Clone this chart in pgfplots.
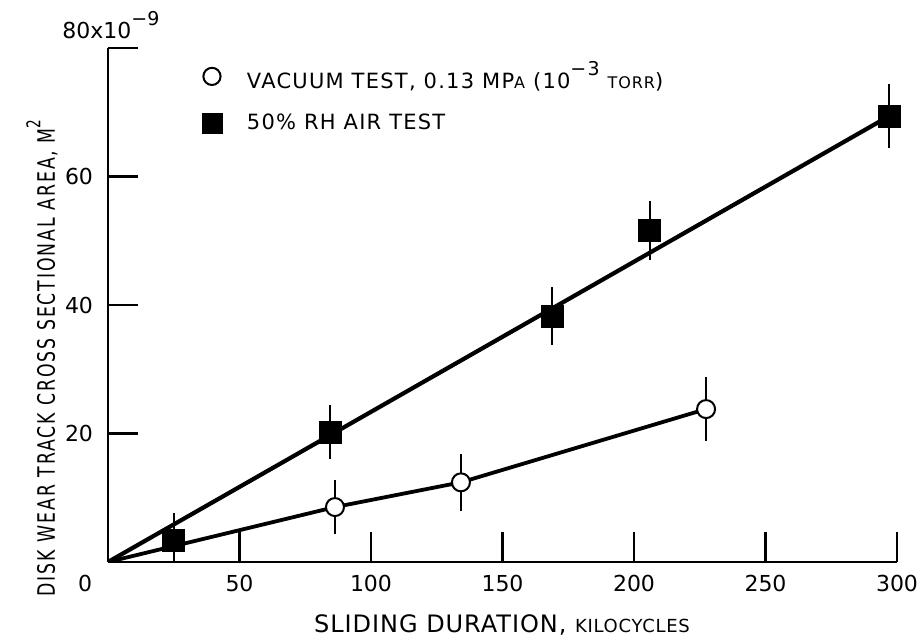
\documentclass[border=0pt]{standalone}
\usepackage{fontspec}
\setmainfont{DejaVu Sans}
\newfontfamily\ylfont{DejaVu Sans}[FakeStretch=0.72,LetterSpace=8]
\newfontfamily\xlfont{DejaVu Sans}[LetterSpace=4]
\newfontfamily\lgfont{DejaVu Sans}[LetterSpace=6]
\usepackage{pgfplots}
\pgfplotsset{compat=1.18}
\usepackage{pgfplotstable}

\pgfplotstableread{
x y e
25 3.4 4.2
84.4 20.2 4.2
168.8 38.3 4.5
206 51.6 4.6
297 69.4 5
}\air
\pgfplotstableread{
x y e
86.3 8.55 4.2
134.2 12.4 4.4
227.4 23.8 5
}\vac

\newcommand{\supr}[1]{\raisebox{0.6em}{\fontsize{9.5}{10}\selectfont #1}}

\begin{document}
\begin{tikzpicture}
\useasboundingbox (-54pt,-39.5pt) rectangle (405.5pt,281pt);
\begin{axis}[
 scale only axis, width=394.5pt, height=257pt,
 xmin=0,xmax=300,ymin=0,ymax=80,
 axis x line=bottom, axis y line=left,
 axis line style={-, line width=1.1pt},
 xtick={0,50,...,300}, xticklabels={,50,100,150,200,250,300},
 ytick={20,40,60,80}, yticklabels={20,40,60,},
 tick align=inside, major tick length=15pt,
 tick style={line width=1.1pt, black},
 /pgf/number format/assume math mode=true,
 tick label style={font=\fontsize{11}{13}\selectfont},
 xticklabel style={anchor=center, yshift=-10.5pt},
 yticklabel style={anchor=center, xshift=-14.5pt},
 legend style={at={(rel axis cs:0.111,0.99)}, anchor=north west, draw=none, fill=none,
   font=\lgfont\fontsize{10.5}{12}\selectfont, row sep=7.5pt,
   /tikz/every odd column/.append style={column sep=10.5pt}},
 legend cell align=left,
]
\addplot[line width=2.1pt, forget plot] coordinates {(0,0) (297,69.4)};
\addplot[line width=1.9pt, forget plot] coordinates {(0,0) (86.3,8.55) (134.2,12.4) (227.4,23.8)};
\addplot[only marks, mark=square*, mark size=5.5pt, black, forget plot,
  error bars/.cd, y dir=both, y explicit, error mark=none,
  error bar style={line width=0.8pt}] table[x=x,y=y,y error=e]{\air};
\addplot[only marks, mark=*, mark size=4.5pt, black, line width=1pt, mark options={fill=white}, forget plot,
  error bars/.cd, y dir=both, y explicit, error mark=none,
  error bar style={line width=0.8pt}] table[x=x,y=y,y error=e]{\vac};
\addlegendimage{only marks, mark=*, mark size=4.3pt, line width=1pt, mark options={fill=white}}
\addlegendimage{only marks, mark=square*, mark size=5pt}
\legend{{VACUUM TEST, 0.13 MP{\fontsize{8}{10}\selectfont A} (10\supr{−3} {\fontsize{8}{10}\selectfont TORR})},{50\% RH AIR TEST}}
\end{axis}
\node[anchor=base west, font=\fontsize{11}{13}\selectfont, inner sep=0pt] at (-23pt,261.5pt) {80x10\supr{−9}};
\node[font=\fontsize{11}{13}\selectfont] at (-11.5pt,-10.5pt) {0};
\node[font=\xlfont\fontsize{12}{14}\selectfont] at (197pt,-31.5pt) {SLIDING DURATION, {\fontsize{9}{10}\selectfont KILOCYCLES}};
\node[rotate=90, font=\ylfont\fontsize{12}{14}\selectfont] at (-33pt,102pt) {DISK WEAR TRACK CROSS SECTIONAL AREA, M\supr{2}};
\end{tikzpicture}
\end{document}
